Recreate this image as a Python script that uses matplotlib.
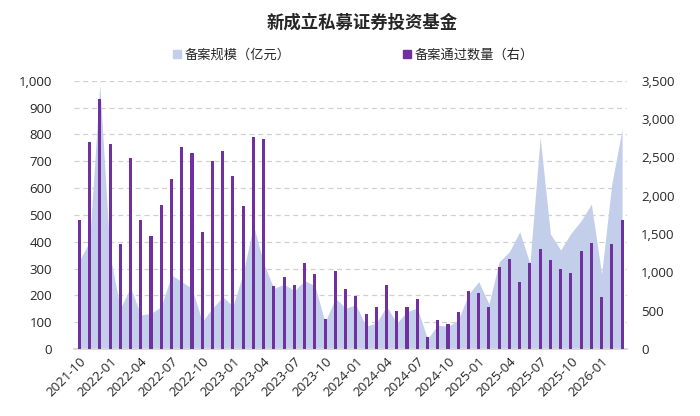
import numpy as np
import pandas as pd
import matplotlib
matplotlib.use('Agg')
import matplotlib.pyplot as plt
from matplotlib.patches import Patch

plt.rcParams['font.family'] = ['Open Sans', 'Noto Sans CJK SC', 'DejaVu Sans']

# monthly categories 2021-10 .. 2026-03
months = [p.strftime('%Y-%m') for p in pd.period_range('2021-10', '2026-03', freq='M')]

# 备案规模（亿元）- left axis
scale = [330, 400, 985, 350, 152, 230, 127, 133, 158, 276, 251, 226,
         102, 152, 195, 160, 282, 462, 319, 226, 242, 217, 255, 236,
         100, 190, 152, 165, 85, 97, 159, 97, 139, 153, 38, 89,
         84, 108, 204, 251, 168, 325, 363, 437, 319, 789, 429, 369,
         431, 478, 540, 280, 617, 819]

# 备案通过数量（右）- right axis
count = [1680, 2705, 3261, 2674, 1374, 2496, 1687, 1478, 1878, 2217, 2631, 2561,
         1526, 2448, 2587, 2261, 1870, 2761, 2735, 817, 939, 835, 1117, 978,
         387, 1017, 778, 691, 452, 552, 830, 491, 552, 648, 152, 378,
         326, 487, 752, 735, 552, 1065, 1178, 874, 1122, 1309, 1165, 1043,
         987, 1274, 1387, 683, 1365, 1678]

area_color = '#C3CEEB'
bar_color = '#7030A0'
text_color = '#262626'

x = np.arange(len(months))

fig = plt.figure(figsize=(7, 4.16), dpi=100)
ax = fig.add_axes([0.106, 0.161, 0.790, 0.645])
ax2 = ax.twinx()

ax.fill_between(x, scale, 0, color=area_color, lw=0, zorder=2)
ax2.bar(x, count, width=0.3, color=bar_color, zorder=3)

ax.set_xlim(-0.5, len(months) - 0.5)
ax.set_ylim(0, 1000)
ax2.set_ylim(0, 3500)
ax.set_yticks(np.arange(0, 1001, 100))
ax2.set_yticks(np.arange(0, 3501, 500))
ax.yaxis.set_major_formatter(matplotlib.ticker.StrMethodFormatter('{x:,.0f}'))
ax2.yaxis.set_major_formatter(matplotlib.ticker.StrMethodFormatter('{x:,.0f}'))

ax.grid(axis='y', color='#d0d0d0', ls=(0, (4, 3)), lw=0.9)
ax.set_axisbelow(True)

ticks = x[::3]
ax.set_xticks(ticks)
ax.set_xticklabels([months[i] for i in ticks], rotation=45, ha='right',
                   rotation_mode='anchor', fontsize=9.5, color=text_color)

for a in (ax, ax2):
    for s in ('top', 'left', 'right'):
        a.spines[s].set_visible(False)
    a.spines['bottom'].set_color('#d9d9d9')
    a.spines['bottom'].set_linewidth(1.2)
    a.tick_params(length=0, labelsize=9.5, labelcolor=text_color)
ax.tick_params(axis='y', pad=16)
ax2.tick_params(axis='y', pad=10)
ax.tick_params(axis='x', pad=4)

fig.text(0.517, 0.945, '新成立私募证券投资基金', ha='center', va='center',
         fontsize=12.5, fontweight='bold', family=['Noto Sans CJK SC'], color=text_color)

handles = [Patch(color=area_color, label='备案规模（亿元）'),
           Patch(color=bar_color, label='备案通过数量（右）')]
fig.legend(handles=handles, loc='center', bbox_to_anchor=(0.505, 0.868), ncol=2,
           frameon=False, handlelength=0.6, handleheight=0.6, handletextpad=0.3,
           columnspacing=8.5, prop={'family': ['Noto Sans CJK SC'], 'size': 9.5},
           labelcolor=text_color)

fig.savefig('out.png', dpi=100)
